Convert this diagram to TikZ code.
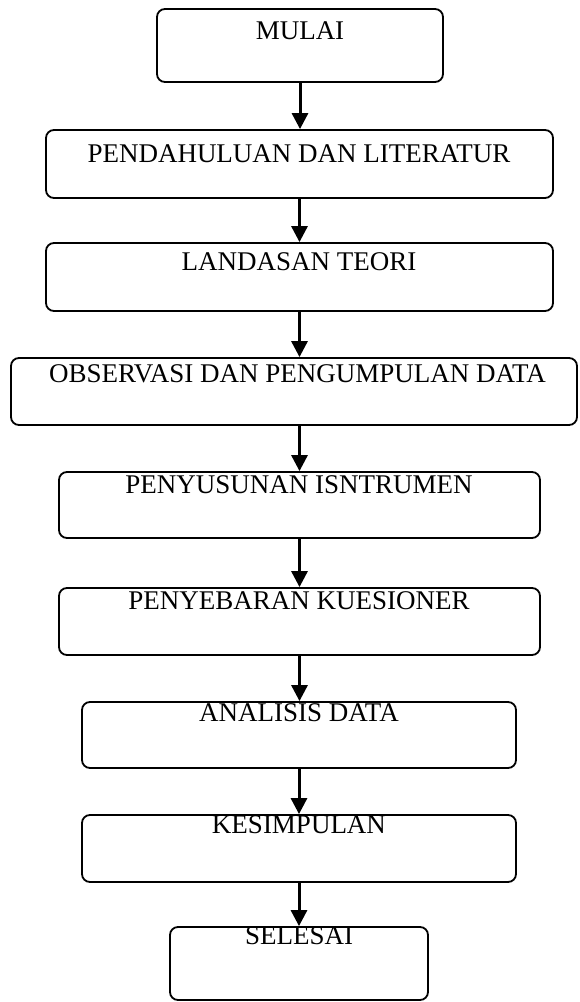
\documentclass[tikz,border=0pt]{standalone}
\usepackage{fontspec}
\setmainfont{Liberation Serif}
\usetikzlibrary{arrows.meta}

\begin{document}
\begin{tikzpicture}[x=0.5pt, y=-0.5pt,
    stepbox/.style={draw, line width=0.9pt, rounded corners=4pt, inner sep=0pt},
    steptext/.style={anchor=base, inner sep=0pt, font=\fontsize{13.5}{16}\selectfont},
    flow/.style={line width=1.5pt, -{Triangle[width=8pt,length=8pt]}}]

    \useasboundingbox (0,0) rectangle (579,1002);

    % boxes
    \node[stepbox, minimum width=143pt, minimum height=36.5pt] (b1) at (300,45.5) {};
    \node[stepbox, minimum width=253.5pt, minimum height=34pt] (b2) at (299.5,164) {};
    \node[stepbox, minimum width=253.5pt, minimum height=34pt] (b3) at (299.5,277) {};
    \node[stepbox, minimum width=283pt, minimum height=33.5pt] (b4) at (294,391.5) {};
    \node[stepbox, minimum width=240.5pt, minimum height=33pt] (b5) at (299.5,505) {};
    \node[stepbox, minimum width=240.5pt, minimum height=33.5pt] (b6) at (299.5,621.5) {};
    \node[stepbox, minimum width=217pt, minimum height=33pt] (b7) at (299,735) {};
    \node[stepbox, minimum width=217pt, minimum height=33.5pt] (b8) at (299,848.5) {};
    \node[stepbox, minimum width=129pt, minimum height=36.5pt] (b9) at (299,963.5) {};

    % texts
    \node[steptext] (t1) at (300,39) {MULAI};
    \node[steptext] (t2) at (299,162) {PENDAHULUAN DAN LITERATUR};
    \node[steptext] (t3) at (299,270) {LANDASAN TEORI};
    \node[steptext] (t4) at (297.5,382) {OBSERVASI DAN PENGUMPULAN DATA};
    \node[steptext] (t5) at (299,493) {PENYUSUNAN ISNTRUMEN};
    \node[steptext] (t6) at (299,609) {PENYEBARAN KUESIONER};
    \node[steptext] (t7) at (299,721) {ANALISIS DATA};
    \node[steptext] (t8) at (299,833) {KESIMPULAN};
    \node[steptext] (t9) at (299,944) {SELESAI};

    % arrows
    \draw[flow] (b1.south) -- (b1.south |- b2.north);
    \draw[flow] (b2.south) -- (b2.south |- b3.north);
    \draw[flow] (b3.south) -- (b3.south |- b4.north);
    \draw[flow] (b3.south |- b4.south) -- (b3.south |- b5.north);
    \draw[flow] (b5.south) -- (b5.south |- b6.north);
    \draw[flow] (b6.south) -- (b6.south |- b7.north);
    \draw[flow] (b7.south) -- (b7.south |- b8.north);
    \draw[flow] (b8.south) -- (b8.south |- b9.north);

\end{tikzpicture}
\end{document}
